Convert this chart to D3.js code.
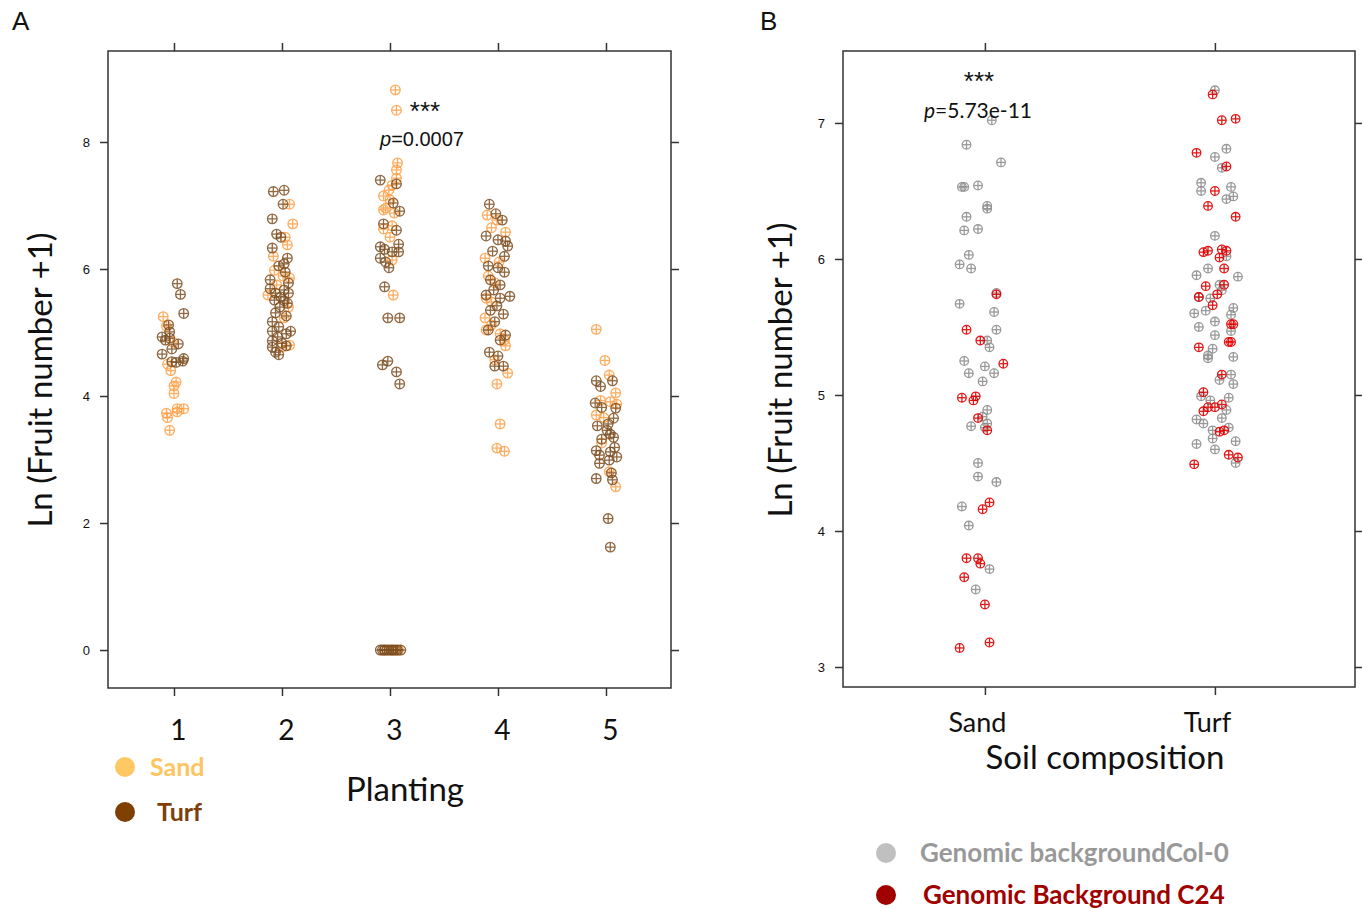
<!DOCTYPE html>
<html>
<head>
<meta charset="utf-8">
<script src="https://cdn.jsdelivr.net/npm/d3@7"></script>
<style>
  body { margin: 0; background: #fff; }
  svg { display: block; }
</style>
</head>
<body>
<div id="chart"></div>
<script>
// Panel A: [planting, jitter (category units), ln(fruit number + 1)]
const plantings = [1, 2, 3, 4, 5];
const yTicksA = [0, 2, 4, 6, 8];

const sandPointsA = [
  [1,-0.10,5.25],[1,-0.07,5.10],[1,-0.01,4.85],[1,-0.06,4.50],[1,-0.03,4.40],[1,0.02,4.22],[1,0.00,4.16],
  [1,0.00,4.04],[1,0.03,3.80],[1,0.09,3.80],[1,0.03,3.75],[1,-0.07,3.73],[1,-0.06,3.66],[1,-0.04,3.46],
  [2,0.07,7.02],[2,0.10,6.71],[2,0.03,6.50],[2,0.05,6.38],[2,-0.08,6.20],[2,-0.07,5.98],[2,0.01,5.89],
  [2,0.07,5.86],[2,-0.05,5.75],[2,-0.13,5.59],[2,0.06,5.40],[2,0.02,5.23],[2,0.07,4.80],[2,0.00,4.77],
  [3,0.05,8.82],[3,0.06,8.50],[3,0.07,7.67],[3,0.06,7.56],[3,0.06,7.43],[3,0.02,7.32],[3,-0.01,7.24],
  [3,-0.06,7.15],[3,0.00,7.09],[3,-0.04,6.96],[3,-0.06,6.93],[3,0.04,6.88],[3,0.02,6.68],[3,-0.06,6.63],
  [3,0.00,6.50],[3,0.02,6.14],[3,0.03,5.59],[3,-0.05,0],[3,0.02,0],[3,0.08,0],
  [4,-0.10,6.85],[4,-0.01,6.77],[4,-0.06,6.65],[4,0.07,6.58],[4,-0.12,6.17],[4,0.01,6.11],[4,-0.09,5.89],
  [4,-0.03,5.78],[4,-0.11,5.54],[4,-0.06,5.48],[4,-0.12,5.23],[4,-0.06,5.12],[4,-0.11,5.04],[4,0.02,4.98],
  [4,0.06,4.88],[4,0.07,4.79],[4,-0.03,4.57],[4,0.09,4.36],[4,-0.01,4.19],[4,0.02,3.56],[4,-0.01,3.18],[4,0.06,3.13],
  [5,-0.09,5.05],[5,-0.01,4.56],[5,0.03,4.33],[5,0.09,4.05],[5,-0.05,3.93],[5,0.04,3.91],[5,0.10,3.87],
  [5,-0.09,3.70],[5,-0.02,3.66],[5,-0.04,3.26],[5,0.03,2.81],[5,0.09,2.57]
];

const turfPointsA = [
  [1,0.03,5.77],[1,0.06,5.60],[1,0.09,5.30],[1,-0.05,5.12],[1,-0.04,5.01],[1,-0.11,4.93],[1,-0.08,4.88],
  [1,-0.04,4.91],[1,0.04,4.82],[1,-0.02,4.74],[1,-0.11,4.66],[1,-0.02,4.54],[1,0.02,4.53],[1,0.09,4.59],[1,0.08,4.55],
  [2,-0.08,7.22],[2,0.02,7.24],[2,0.01,7.02],[2,-0.09,6.79],[2,-0.05,6.55],[2,-0.01,6.50],[2,-0.09,6.33],
  [2,0.05,6.17],[2,0.02,6.08],[2,-0.03,6.05],[2,0.03,5.95],[2,-0.11,5.83],[2,0.06,5.78],[2,0.02,5.67],
  [2,-0.11,5.69],[2,-0.06,5.62],[2,0.06,5.62],[2,-0.01,5.56],[2,0.02,5.50],[2,-0.07,5.51],[2,0.05,5.46],
  [2,-0.02,5.40],[2,-0.06,5.31],[2,0.04,5.26],[2,-0.09,5.17],[2,-0.03,5.09],[2,0.08,5.02],[2,-0.09,5.02],
  [2,0.04,4.98],[2,-0.04,4.93],[2,-0.09,4.87],[2,0.00,4.83],[2,-0.09,4.77],[2,0.04,4.79],[2,-0.06,4.69],[2,-0.03,4.65],
  [3,-0.09,7.40],[3,0.06,7.34],[3,0.03,7.04],[3,0.09,6.91],[3,-0.06,6.71],[3,0.06,6.61],[3,-0.09,6.35],
  [3,-0.05,6.31],[3,0.02,6.27],[3,0.08,6.39],[3,0.08,6.27],[3,-0.09,6.17],[3,-0.04,6.11],[3,-0.01,6.02],
  [3,-0.05,5.72],[3,-0.02,5.23],[3,0.09,5.23],[3,-0.07,4.49],[3,-0.02,4.55],[3,0.06,4.38],[3,0.09,4.19],
  [3,-0.09,0],[3,-0.07,0],[3,-0.05,0],[3,-0.03,0],[3,-0.01,0],[3,0.01,0],[3,0.03,0],[3,0.05,0],[3,0.07,0],[3,0.10,0],
  [4,-0.08,7.02],[4,-0.02,6.87],[4,0.04,6.77],[4,-0.11,6.52],[4,0.00,6.46],[4,0.07,6.44],[4,0.09,6.36],
  [4,-0.05,6.28],[4,0.06,6.20],[4,-0.09,6.05],[4,0.00,6.02],[4,0.06,5.95],[4,-0.07,5.83],[4,0.02,5.75],
  [4,-0.04,5.67],[4,-0.11,5.59],[4,0.02,5.54],[4,0.11,5.57],[4,-0.01,5.42],[4,-0.07,5.35],[4,0.05,5.29],
  [4,-0.03,5.17],[4,-0.09,5.04],[4,0.07,4.96],[4,0.02,4.88],[4,-0.08,4.69],[4,0.00,4.63],[4,0.05,4.47],[4,-0.03,4.47],
  [5,-0.09,4.24],[5,-0.05,4.15],[5,0.06,4.24],[5,-0.10,3.89],[5,-0.04,3.82],[5,0.09,3.81],[5,0.07,3.65],
  [5,-0.08,3.53],[5,0.02,3.56],[5,0.01,3.46],[5,0.04,3.40],[5,-0.04,3.32],[5,0.07,3.35],[5,0.08,3.19],
  [5,-0.09,3.14],[5,0.04,3.12],[5,-0.06,3.07],[5,0.10,3.04],[5,-0.06,2.94],[5,0.03,2.99],[5,0.05,2.79],
  [5,0.06,2.68],[5,-0.09,2.70],[5,0.02,2.07],[5,0.04,1.62]
];

// Panel B: [soil index (1 Sand, 2 Turf), jitter, ln(fruit number + 1)]
const soils = ["Sand", "Turf"];
const yTicksB = [3, 4, 5, 6, 7];

const col0PointsB = [
  [1,0.03,7.02],[1,-0.08,6.84],[1,0.07,6.71],[1,-0.10,6.53],[1,-0.09,6.53],[1,-0.03,6.54],[1,0.01,6.39],
  [1,0.01,6.37],[1,-0.08,6.31],[1,-0.09,6.21],[1,-0.03,6.22],[1,-0.07,6.03],[1,-0.11,5.96],[1,-0.06,5.93],
  [1,0.05,5.75],[1,-0.11,5.67],[1,0.04,5.61],[1,0.05,5.48],[1,0.01,5.40],[1,0.02,5.35],[1,-0.09,5.25],
  [1,0.00,5.21],[1,-0.07,5.16],[1,0.04,5.16],[1,-0.01,5.10],[1,0.01,4.89],[1,-0.01,4.84],[1,0.01,4.79],
  [1,0.00,4.76],[1,-0.06,4.77],[1,-0.03,4.50],[1,-0.03,4.40],[1,0.05,4.36],[1,-0.10,4.18],[1,-0.07,4.04],
  [1,0.02,3.72],[1,-0.04,3.57],
  [2,0.00,7.24],[2,0.05,6.81],[2,0.00,6.75],[2,0.03,6.67],[2,-0.06,6.56],[2,-0.06,6.50],[2,0.07,6.53],
  [2,0.05,6.44],[2,0.08,6.46],[2,0.00,6.17],[2,0.05,6.02],[2,-0.03,5.93],[2,-0.08,5.88],[2,0.10,5.87],
  [2,0.02,5.81],[2,0.03,5.77],[2,-0.07,5.72],[2,-0.02,5.71],[2,0.08,5.64],[2,0.07,5.59],[2,-0.09,5.60],
  [2,-0.04,5.62],[2,0.00,5.54],[2,-0.07,5.50],[2,0.07,5.47],[2,0.00,5.44],[2,-0.01,5.34],[2,-0.03,5.29],
  [2,-0.03,5.27],[2,0.08,5.28],[2,0.07,5.15],[2,0.02,5.11],[2,0.08,5.08],[2,-0.06,4.99],[2,0.06,4.98],
  [2,-0.02,4.96],[2,0.05,4.89],[2,0.03,4.83],[2,-0.08,4.82],[2,-0.05,4.79],[2,-0.01,4.74],[2,0.06,4.76],
  [2,-0.01,4.68],[2,0.09,4.66],[2,-0.08,4.64],[2,0.00,4.60],[2,0.09,4.50]
];

const c24PointsB = [
  [1,0.05,5.74],[1,-0.08,5.48],[1,-0.02,5.40],[1,0.08,5.23],[1,-0.10,4.98],[1,-0.04,4.99],[1,-0.05,4.96],
  [1,-0.03,4.83],[1,0.01,4.74],[1,0.02,4.21],[1,-0.01,4.16],[1,-0.08,3.80],[1,-0.03,3.80],[1,-0.02,3.76],
  [1,-0.09,3.66],[1,0.00,3.46],[1,0.02,3.18],[1,-0.11,3.14],
  [2,-0.01,7.21],[2,0.03,7.02],[2,0.09,7.03],[2,-0.08,6.78],[2,0.05,6.68],[2,0.00,6.50],[2,-0.03,6.39],
  [2,0.09,6.31],[2,-0.05,6.05],[2,-0.03,6.06],[2,0.03,6.07],[2,0.05,6.06],[2,0.02,6.01],[2,0.04,5.93],
  [2,0.04,5.81],[2,-0.04,5.80],[2,0.01,5.74],[2,-0.07,5.72],[2,-0.01,5.66],[2,0.07,5.52],[2,0.08,5.52],
  [2,0.07,5.39],[2,0.06,5.39],[2,-0.07,5.35],[2,0.03,5.15],[2,-0.05,5.02],[2,0.03,4.93],[2,0.00,4.91],
  [2,-0.03,4.91],[2,-0.05,4.88],[2,0.04,4.74],[2,0.02,4.73],[2,0.06,4.56],[2,0.10,4.54],[2,-0.09,4.49]
];

const W = 1362, H = 909;
const svg = d3.select("#chart").append("svg").attr("width", W).attr("height", H);

const sansFont = "'Liberation Sans', Arial, sans-serif";
const labelFont = "Lato, 'Open Sans', sans-serif";

// circle with a plus inside (R pch = 10)
function drawPoints(g, pts, x, y, color, r, opacity) {
  const sel = g.selectAll(null).data(pts).enter().append("g")
    .attr("transform", d => `translate(${x(d[0] + d[1])},${y(d[2])})`)
    .attr("stroke", color).attr("stroke-width", 1.3).attr("fill", "none")
    .attr("opacity", opacity);
  sel.append("circle").attr("r", r);
  sel.append("line").attr("x1", -r).attr("x2", r);
  sel.append("line").attr("y1", -r).attr("y2", r);
}

function frame(g, box, x, y, xTicks, yTicks, xFmt, xFontSize, xPad, xShift) {
  const axisColor = "#333";
  g.append("rect").attr("x", box.l).attr("y", box.t)
    .attr("width", box.r - box.l).attr("height", box.b - box.t)
    .attr("fill", "none").attr("stroke", axisColor).attr("stroke-width", 1.5);

  const left = g.append("g").attr("transform", `translate(${box.l},0)`)
    .call(d3.axisLeft(y).tickValues(yTicks).tickSize(8).tickPadding(10).tickFormat(d3.format("d")));
  const right = g.append("g").attr("transform", `translate(${box.r},0)`)
    .call(d3.axisRight(y).tickValues(yTicks).tickSize(8).tickFormat(""));
  const top = g.append("g").attr("transform", `translate(0,${box.t})`)
    .call(d3.axisTop(x).tickValues(xTicks).tickSize(8).tickFormat(""));
  const bottom = g.append("g").attr("transform", `translate(0,${box.b})`)
    .call(d3.axisBottom(x).tickValues(xTicks).tickSize(8).tickPadding(xPad).tickFormat(xFmt));

  [left, right, top, bottom].forEach(a => {
    a.select(".domain").remove();
    a.selectAll(".tick line").attr("stroke", axisColor).attr("stroke-width", 1.5);
  });
  left.selectAll("text").attr("font-family", sansFont).attr("font-size", 13).attr("fill", "#111");
  bottom.selectAll("text").attr("font-family", labelFont).attr("font-size", xFontSize)
    .attr("fill", "#111").attr("dx", xShift);
}

function stars(g, x, y, size) {
  g.append("text").attr("x", x).attr("y", y).attr("text-anchor", "middle")
    .attr("font-family", sansFont).attr("font-size", size).attr("fill", "#111").text("***");
}

// ---------- Panel A ----------
const boxA = { l: 108, r: 671, t: 51, b: 688 };
const xA = d3.scaleLinear().domain([0.389, 5.602]).range([boxA.l, boxA.r]);
const yA = d3.scaleLinear().domain([-0.598, 9.433]).range([boxA.b, boxA.t]);
const gA = svg.append("g");

frame(gA, boxA, xA, yA, plantings, yTicksA, d => d, 28, 24, 4);
drawPoints(gA, sandPointsA, xA, yA, "#ff9f45", 4.8, 0.85);
drawPoints(gA, turfPointsA, xA, yA, "#7d4f22", 4.8, 0.85);

gA.append("text").attr("x", 12).attr("y", 30).text("A")
  .attr("font-family", sansFont).attr("font-size", 26).attr("fill", "#111");

stars(gA, 425, 120, 26);
const pA = gA.append("text").attr("x", 422).attr("y", 146).attr("text-anchor", "middle")
  .attr("font-family", sansFont).attr("font-size", 20).attr("fill", "#111");
pA.append("tspan").attr("font-style", "italic").text("p");
pA.append("tspan").text("=0.0007");

gA.append("text").attr("transform", "translate(52,380) rotate(-90)")
  .attr("text-anchor", "middle").attr("font-family", labelFont).attr("font-size", 33)
  .attr("fill", "#111").text("Ln (Fruit number +1)");

gA.append("text").attr("x", 405).attr("y", 801).attr("text-anchor", "middle")
  .attr("font-family", labelFont).attr("font-size", 33).attr("fill", "#111").text("Planting");

const legendA = [
  { label: "Sand", color: "#ffc864", text: "#fdc45f", cy: 767, tx: 150 },
  { label: "Turf", color: "#7f3f00", text: "#7f3f0a", cy: 812, tx: 157 }
];
legendA.forEach(d => {
  gA.append("circle").attr("cx", 125).attr("cy", d.cy).attr("r", 10).attr("fill", d.color);
  gA.append("text").attr("x", d.tx).attr("y", d.cy + 9).text(d.label)
    .attr("font-family", labelFont).attr("font-weight", "bold").attr("font-size", 25).attr("fill", d.text);
});

// ---------- Panel B ----------
const boxB = { l: 843, r: 1355, t: 51, b: 687 };
const xB = d3.scaleLinear().domain([0.383, 2.609]).range([boxB.l, boxB.r]);
const yB = d3.scaleLinear().domain([2.853, 7.529]).range([boxB.b, boxB.t]);
const gB = svg.append("g");

frame(gB, boxB, xB, yB, [1, 2], yTicksB, d => soils[d - 1], 27, 18, -8);
drawPoints(gB, col0PointsB, xB, yB, "#8f8f8f", 4.3, 0.9);
drawPoints(gB, c24PointsB, xB, yB, "#e00000", 4.3, 0.9);

gB.append("text").attr("x", 760).attr("y", 30).text("B")
  .attr("font-family", sansFont).attr("font-size", 26).attr("fill", "#111");

stars(gB, 979, 90, 26);
const pB = gB.append("text").attr("x", 978).attr("y", 118).attr("text-anchor", "middle")
  .attr("font-family", labelFont).attr("font-size", 21).attr("fill", "#111");
pB.append("tspan").attr("font-style", "italic").text("p");
pB.append("tspan").text("=5.73e-11");

gB.append("text").attr("transform", "translate(792,370) rotate(-90)")
  .attr("text-anchor", "middle").attr("font-family", labelFont).attr("font-size", 33)
  .attr("fill", "#111").text("Ln (Fruit number +1)");

gB.append("text").attr("x", 1105).attr("y", 769).attr("text-anchor", "middle")
  .attr("font-family", labelFont).attr("font-size", 33).attr("fill", "#111").text("Soil composition");

const legendB = [
  { label: "Genomic backgroundCol-0", color: "#c0c0c0", text: "#999999", cy: 853, tx: 920 },
  { label: "Genomic Background C24", color: "#a00000", text: "#a00000", cy: 895, tx: 923 }
];
legendB.forEach(d => {
  gB.append("circle").attr("cx", 886).attr("cy", d.cy).attr("r", 10).attr("fill", d.color);
  gB.append("text").attr("x", d.tx).attr("y", d.cy + 9).text(d.label)
    .attr("font-family", labelFont).attr("font-weight", "bold").attr("font-size", 26).attr("fill", d.text);
});
</script>
</body>
</html>
